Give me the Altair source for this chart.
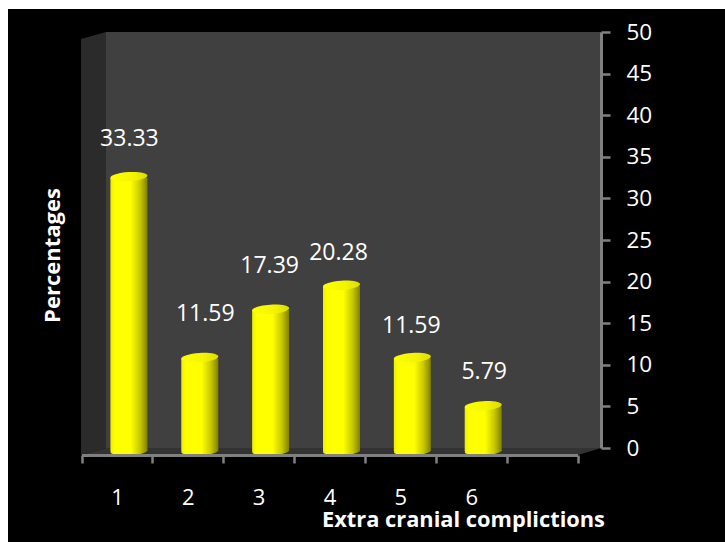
import altair as alt
import pandas as pd

# Complication categories and their percentages
categories = ["1", "2", "3", "4", "5", "6"]
percentages = [33.33, 11.59, 17.39, 20.28, 11.59, 5.79]
value_labels = ["33.33", "11.59", "17.39", "20.28", "11.59", "5.79"]
category_domain = ["1", "2", "3", "4", "5", "6", "7"]
y_ticks = [0, 5, 10, 15, 20, 25, 30, 35, 40, 45, 50]

df = pd.DataFrame({"category": categories, "pct": percentages, "label": value_labels, "zero": 0})

FONT = "Open Sans"
x_scale = alt.Scale(domain=category_domain, range=[81.5, 577.5], paddingInner=0, paddingOuter=0)
y_scale = alt.Scale(domain=[0, 50], range=[448, 32])

x_axis = alt.Axis(
    title="Extra cranial complictions",
    titleX=463,
    titleY=64,
    titleBaseline="middle",
    titleFont=FONT,
    titleFontSize=21.8,
    titleFontWeight="bold",
    titleColor="#ffffff",
    labelExpr="datum.value == '7' ? '' : datum.label",
    labelAngle=0,
    labelFont=FONT,
    labelFontSize=22,
    labelColor="#ffffff",
    labelPadding=24,
    tickBand="extent",
    tickSize=8,
    tickWidth=2.5,
    tickColor="#808080",
    domainColor="#808080",
    domainWidth=3,
    offset=-87,
    zindex=1,
)
y_axis = alt.Axis(
    orient="right",
    values=y_ticks,
    title="Percentages",
    titleX=-549,
    titleY=255,
    titleAngle=270,
    titleAlign="center",
    titleBaseline="middle",
    titleFont=FONT,
    titleFontSize=22,
    titleFontWeight="bold",
    titleColor="#ffffff",
    labelFont=FONT,
    labelFontSize=22.5,
    labelColor="#ffffff",
    labelPadding=16,
    grid=False,
    tickSize=9,
    tickWidth=2.5,
    tickColor="#808080",
    domainColor="#808080",
    domainWidth=3,
    offset=-124,
    zindex=1,
)

x_enc = alt.X("category:O", scale=x_scale, axis=x_axis)
y_enc = alt.Y("pct:Q", scale=y_scale, stack=None, axis=y_axis)


def backdrop(path, colour):
    # Size 4 makes the symbol's path units equal to pixels
    return alt.Chart(df.head(1)).mark_point(
        shape=path, size=4, filled=True, fill=colour, opacity=1, strokeWidth=0
    ).encode(x=alt.value(0), y=alt.value(0))


frame = backdrop("M8,9L725,9L725,542L8,542Z", "#000000")
wall = backdrop("M106,32L601,32L601,448L106,448Z", "#404040")
side_wall = backdrop("M81,39L106,32L106,448L81,455Z", "#2b2b2b")
floor = backdrop("M81,455L106,448L601,448L578,455Z", "#333333")

cylinder_fill = alt.Gradient(
    gradient="linear", x1=0, x2=1, y1=0, y2=0,
    stops=[
        alt.GradientStop(offset=0, color="#eeee00"),
        alt.GradientStop(offset=0.12, color="#ffff00"),
        alt.GradientStop(offset=0.55, color="#ffff00"),
        alt.GradientStop(offset=0.8, color="#c8c800"),
        alt.GradientStop(offset=1, color="#808000"),
    ],
)
cap_fill = alt.Gradient(
    gradient="linear", x1=0, x2=1, y1=0, y2=0,
    stops=[
        alt.GradientStop(offset=0, color="#ffff00"),
        alt.GradientStop(offset=0.6, color="#f4f400"),
        alt.GradientStop(offset=1, color="#dcdc00"),
    ],
)
ellipse = "M-1,0.06A1,0.25 -3.5 0 1 1,-0.06A1,0.25 -3.5 0 1 -1,0.06Z"

base = alt.Chart(df).mark_point(
    shape=ellipse, size=1369, filled=True, fill=cylinder_fill, opacity=1,
    strokeWidth=0, xOffset=12, yOffset=3,
).encode(x=x_enc, y=alt.Y("zero:Q", scale=y_scale, axis=y_axis))

body = alt.Chart(df).mark_bar(
    width=37, fill=cylinder_fill, xOffset=12, x2Offset=12, yOffset=7, y2Offset=3,
).encode(x=x_enc, y=y_enc, y2=alt.Y2("zero:Q"))

cap = alt.Chart(df).mark_point(
    shape=ellipse, size=1369, filled=True, fill=cap_fill, opacity=1,
    strokeWidth=0, xOffset=12, yOffset=6,
).encode(x=x_enc, y=y_enc)

# Each value label sits by hand above its cylinder
label_nudges = [(12.5, -32), (17.5, -38), (11, -37), (9, -26), (11, -26), (13, -28)]
labels = [
    alt.Chart(df.iloc[[i]]).mark_text(
        font=FONT, fontSize=23, color="#ffffff", dx=dx, dy=dy, baseline="middle", align="center",
    ).encode(x=x_enc, y=y_enc, text="label:N")
    for i, (dx, dy) in enumerate(label_nudges)
]

chart = alt.layer(frame, wall, side_wall, floor, base, body, cap, *labels).properties(
    width=725,
    height=542,
    padding=0,
    background="#ffffff",
    autosize=alt.AutoSizeParams(type="none"),
).configure_view(stroke=None)

chart.save("out.html", embed_options={"renderer": "svg", "actions": False})
